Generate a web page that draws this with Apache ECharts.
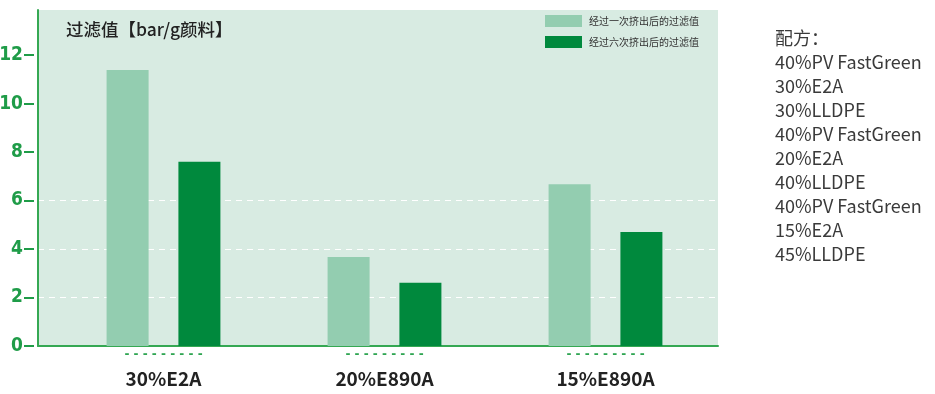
<!DOCTYPE html>
<html>
<head>
<meta charset="utf-8">
<script src="https://cdn.jsdelivr.net/npm/echarts@6/dist/echarts.min.js"></script>
<style>
html,body{margin:0;padding:0;background:#ffffff;}
#main{width:935px;height:394px;}
</style>
</head>
<body>
<div id="main"></div>
<script>
// ---- data ----
var categories = ['30%E2A', '20%E890A', '15%E890A'];
var seriesNames = ['经过一次挤出后的过滤值', '经过六次挤出后的过滤值'];
var onceValues = [11.38, 3.67, 6.67];
var sixValues = [7.6, 2.61, 4.7];
var yTicks = [0, 2, 4, 6, 8, 10, 12];
var titleText = '过滤值【bar/g颜料】';
var recipeLines = ['配方：', '40%PV FastGreen', '30%E2A', '30%LLDPE', '40%PV FastGreen', '20%E2A', '40%LLDPE', '40%PV FastGreen', '15%E2A', '45%LLDPE'];

// ---- styles ----
var lightGreen = '#93cdb0';
var darkGreen = '#00893d';
var axisGreen = '#35a853';
var labelGreen = '#1f9c48';
var bgGreen = '#d8ebe2';
var yMax = 13.86;
var cjk = '"Noto Sans CJK SC", "Noto Sans", sans-serif';

var chart = echarts.init(document.getElementById('main'), null, {renderer: 'canvas'});

var option = {
  backgroundColor: '#ffffff',
  animation: false,
  title: [
    {
      text: titleText,
      left: 66, top: 21, padding: 0,
      textStyle: {fontFamily: cjk, fontSize: 17.5, fontWeight: 500, color: '#222'}
    },
    {
      text: recipeLines.join('\n'),
      left: 775, top: 26, padding: 0,
      textStyle: {fontFamily: cjk, fontSize: 18, fontWeight: 'normal', color: '#3a3a3a', lineHeight: 24}
    }
  ],
  legend: {
    orient: 'vertical',
    left: 545, top: 15,
    padding: 0,
    itemWidth: 37, itemHeight: 12, itemGap: 9,
    icon: 'rect',
    data: seriesNames,
    textStyle: {fontFamily: cjk, fontSize: 10, color: '#333', padding: [0, 0, 0, 2]}
  },
  grid: [
    {left: 38, right: 217, top: 10, bottom: 48, show: true, backgroundColor: bgGreen, borderWidth: 0, outerBoundsMode: 'none', containLabel: false},
    {left: 53, right: 219, top: 10, bottom: 48, outerBoundsMode: 'none', containLabel: false}
  ],
  xAxis: [
    {
      gridIndex: 0, type: 'category', data: categories,
      axisLine: {show: true, lineStyle: {color: axisGreen, width: 2}},
      axisTick: {show: false}, axisLabel: {show: false}, splitLine: {show: false}
    },
    {
      gridIndex: 1, type: 'category', data: categories,
      axisLine: {show: false}, axisTick: {show: false},
      axisLabel: {
        margin: 3,
        formatter: function (v) { return '{d|- - - - - - - - -}\n{n|' + v + '}'; },
        rich: {
          d: {color: '#2fa552', fontSize: 12, fontWeight: 'bold', lineHeight: 12, fontFamily: 'DejaVu Sans'},
          n: {color: '#222', fontSize: 19, fontWeight: 'bold', lineHeight: 36, fontFamily: cjk}
        }
      }
    }
  ],
  yAxis: [
    {
      gridIndex: 0, type: 'value', min: 0, max: yMax, interval: 2,
      axisLine: {show: true, lineStyle: {color: axisGreen, width: 2}},
      axisTick: {show: false}, axisLabel: {show: false},
      splitLine: {show: true, lineStyle: {type: [6, 5], width: 1.2,
        color: ['rgba(0,0,0,0)', '#ffffff', '#ffffff', '#ffffff', 'rgba(0,0,0,0)', 'rgba(0,0,0,0)', 'rgba(0,0,0,0)', 'rgba(0,0,0,0)']}}
    },
    {
      gridIndex: 0, type: 'value', min: 0, max: yMax, interval: 2, position: 'left', offset: 4,
      axisLine: {show: false},
      axisTick: {show: true, length: 10, customValues: yTicks, lineStyle: {color: labelGreen, width: 2}},
      axisLabel: {customValues: yTicks, margin: 11, color: labelGreen, fontSize: 19, fontWeight: 'bold',
        fontFamily: '"Liberation Sans Narrow", "DejaVu Sans Condensed", sans-serif'},
      splitLine: {show: false}
    },
    {
      gridIndex: 1, type: 'value', min: 0, max: yMax, show: false, splitLine: {show: false}
    }
  ],
  series: [
    {
      name: seriesNames[0], type: 'bar', xAxisIndex: 1, yAxisIndex: 2,
      data: onceValues, barWidth: 42, barGap: '71%',
      itemStyle: {color: lightGreen}
    },
    {
      name: seriesNames[1], type: 'bar', xAxisIndex: 1, yAxisIndex: 2,
      data: sixValues, barWidth: 42, barGap: '71%',
      itemStyle: {color: darkGreen}
    }
  ]
};
chart.setOption(option);
</script>
</body>
</html>
